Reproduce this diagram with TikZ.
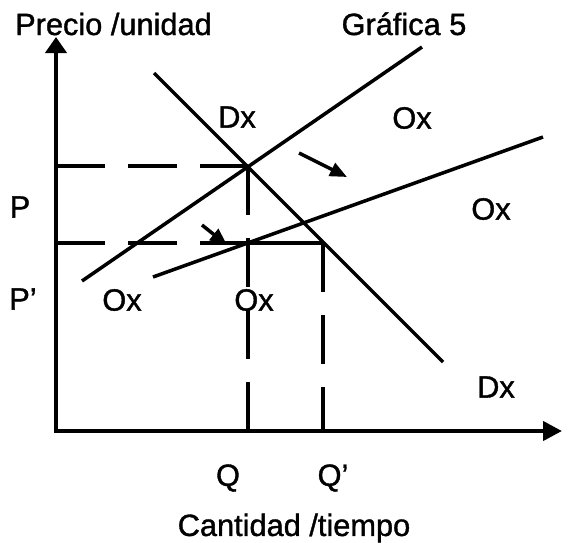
\documentclass[tikz,border=0pt]{standalone}
\usepackage{fontspec}
\setmainfont{Liberation Sans}
\newfontfamily\lblfont{Liberation Sans}[FakeBold=1.2]
\usetikzlibrary{arrows.meta}
\begin{document}
\begin{tikzpicture}[baseline=0]
            \tikzstyle{lbl}=[inner sep=0pt, font=\lblfont\fontsize{17.5}{20}\selectfont]
            \tikzstyle{curveline}=[line width=2pt]
            \tikzstyle{guide}=[line width=1.9pt, dash pattern=on 0.98cm off 0.46cm]
            \tikzstyle{axisline}=[line width=2.4pt, {Triangle[length=0.32cm,width=0.42cm]}-{Triangle[length=0.38cm,width=0.38cm]}]
            \tikzstyle{shiftarrow}=[line width=2pt, -{Triangle[length=0.34cm,width=0.28cm]}]
            \useasboundingbox (-1.12,-2.22) rectangle (10.26,8.62);
            % axes
            \coordinate (O) at (0,0);
            \coordinate (Ytop) at (0,7.88);
            \coordinate (Xend) at (10.12,0);
            \draw[axisline] (Ytop) -- (O) -- (Xend);
            \node[lbl, anchor=base] (ylab) at (1.15,7.92) {Precio /unidad};
            \node[lbl, anchor=base] (title) at (6.96,7.92) {Gráfica 5};
            \node[lbl] (xlab) at (4.76,-1.94) {Cantidad /tiempo};
            % equilibrium points
            \coordinate (E1) at (3.84,5.30);
            \coordinate (E2) at (3.84,3.76);
            \coordinate (E3) at (5.34,3.76);
            \coordinate (Pax) at (0,5.30);
            \coordinate (Ppax) at (0,3.76);
            \coordinate (Qax) at (3.84,0);
            \coordinate (Qpax) at (5.34,0);
            % supply and demand
            \coordinate (S1a) at (0.52,3.00);
            \coordinate (S1b) at (7.32,7.68);
            \coordinate (S2a) at (1.94,3.08);
            \coordinate (S2b) at (9.74,5.88);
            \coordinate (Da) at (1.96,7.16);
            \coordinate (Db) at (7.74,1.38);
            \path (S1a) edge[curveline] (S1b);
            \path (S2a) edge[curveline] (S2b);
            \path (Da) edge[curveline] (Db);
            % guide lines
            \path (Pax) edge[guide] (E1);
            \path (Ppax) edge[guide] (E2);
            \path (E2) edge[curveline] (E3);
            \path (E1) edge[guide] (Qax);
            \path (E3) edge[guide] (Qpax);
            % shift arrows
            \coordinate (A1a) at (4.86,5.56);
            \coordinate (A1b) at (5.82,5.08);
            \coordinate (A2a) at (2.92,4.12);
            \coordinate (A2b) at (3.42,3.72);
            \path (A1a) edge[shiftarrow] (A1b);
            \path (A2a) edge[shiftarrow] (A2b);
            % labels
            \node[lbl] (D1) at (3.62,6.28) {Dx};
            \node[lbl] (O1) at (7.12,6.26) {Ox};
            \node[lbl] (O2) at (8.70,4.44) {Ox};
            \node[lbl] (O3) at (1.32,2.62) {Ox};
            \node[lbl] (O4) at (3.96,2.62) {Ox};
            \node[lbl] (D2) at (8.80,0.88) {Dx};
            \node[lbl] (P) at (-0.72,4.48) {P};
            \node[lbl] (Pp) at (-0.66,2.64) {P’};
            \node[lbl] (Q) at (3.44,-0.94) {Q};
            \node[lbl] (Qp) at (5.54,-0.94) {Q’};
\end{tikzpicture}
\end{document}
